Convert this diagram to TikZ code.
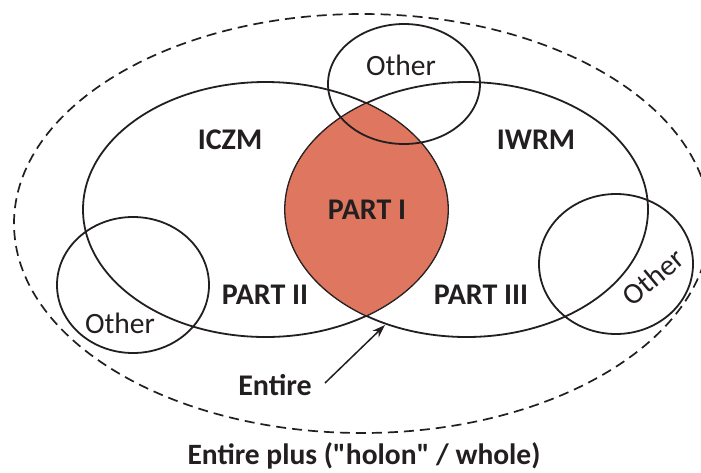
\documentclass[tikz,border=0pt]{standalone}
\usepackage{fontspec}
\setmainfont{Carlito}
\usetikzlibrary{shapes.geometric,arrows.meta}
\definecolor{ink}{RGB}{35,31,32}
\definecolor{lensfill}{RGB}{223,119,96}
\tikzset{
  region/.style={ellipse, draw=ink, line width=1.8pt, inner sep=0pt},
  outer/.style={ellipse, draw=ink, line width=1.7pt, dash pattern=on 10pt off 6pt, inner sep=0pt},
  boldlabel/.style={text=ink, font=\fontsize{30}{33}\selectfont\bfseries, inner sep=0pt},
  otherlabel/.style={text=ink, font=\fontsize{29.5}{32}\selectfont, inner sep=0pt},
  pointer/.style={draw=ink, line width=1.5pt, -{Stealth[length=13pt,width=9pt]}}
}
\begin{document}
\begin{tikzpicture}[x=1pt,y=-1pt]
\useasboundingbox (0,0) rectangle (701,472);
\fill[white] (0,0) rectangle (701,472);

% the whole: dashed outer boundary
\node[outer, minimum width=696pt, minimum height=419pt] (whole) at (362,223.5) {};

% the two management domains
\node[region, minimum width=365pt, minimum height=255pt] (iczm) at (265.5,209.5) {};
\node[region, minimum width=363pt, minimum height=255pt] (iwrm) at (466.5,209.5) {};

% shared part (intersection of both domains)
\begin{scope}
  \clip (265.5,209.5) ellipse [x radius=182.5pt, y radius=127.5pt];
  \fill[lensfill] (466.5,209.5) ellipse [x radius=181.5pt, y radius=127.5pt];
  \draw[ink, line width=0.8pt] (466.5,209.5) ellipse [x radius=181.5pt, y radius=127.5pt];
\end{scope}
\begin{scope}
  \clip (466.5,209.5) ellipse [x radius=181.5pt, y radius=127.5pt];
  \draw[ink, line width=0.8pt] (265.5,209.5) ellipse [x radius=182.5pt, y radius=127.5pt];
\end{scope}
\coordinate (cusp) at (366.5,316);

% other overlapping domains
\node[region, minimum width=152pt, minimum height=120pt] (othertop) at (404,84) {};
\node[region, minimum width=152pt, minimum height=136pt] (otherleft) at (133,285) {};
\node[region, minimum width=154pt, minimum height=140pt] (otherright) at (616,264) {};

% labels
\node[boldlabel] (liczm) at (230,140) {ICZM};
\node[boldlabel] (liwrm) at (536,140) {IWRM};
\node[boldlabel] (lp1) at (367,210) {PART I};
\node[boldlabel] (lp2) at (265,295) {PART II};
\node[boldlabel] (lp3) at (481,295) {PART III};
\node[otherlabel] (lot) at (401,65) {Other};
\node[otherlabel] (lol) at (120,323) {Other};
\node[otherlabel, rotate=40] (lor) at (653,277) {Other};
\node[boldlabel] (entire) at (275,385) {Entire};
\node[boldlabel, font=\fontsize{29.5}{32}\selectfont\bfseries] (wholelabel) at (364,456)
  {Entire plus (\textquotedbl holon\textquotedbl{} / whole)};

% pointer to the cusp of the shared part
\coordinate (tail) at (325,383);
\draw[pointer] (tail) -- (385,325);
\end{tikzpicture}
\end{document}
